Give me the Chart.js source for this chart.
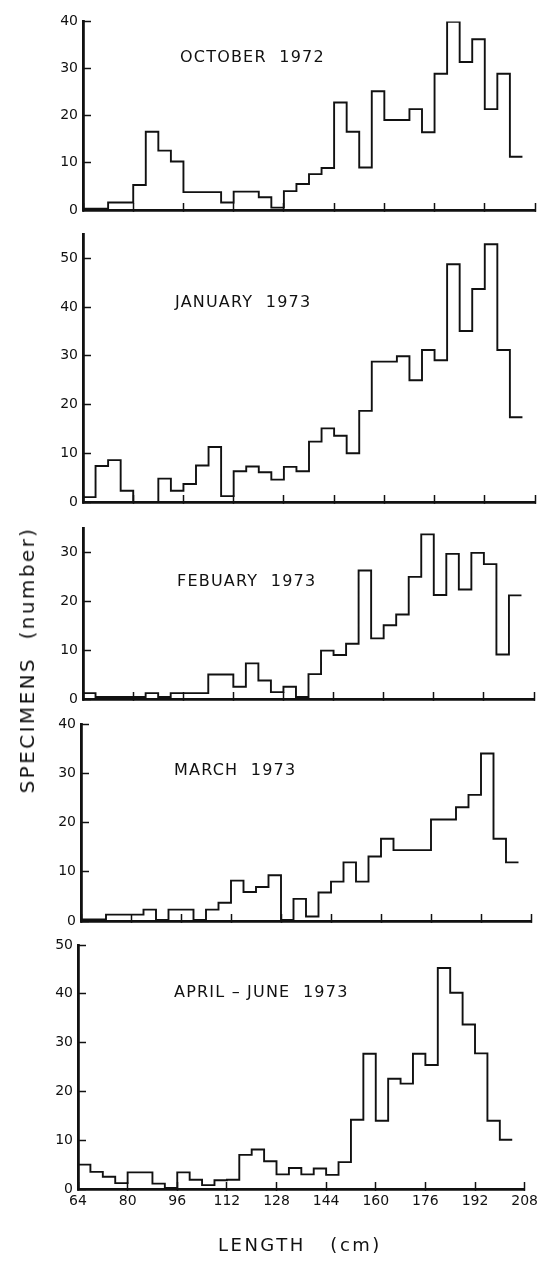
<!DOCTYPE html>
<html><head><meta charset="utf-8">
<script src="https://cdn.jsdelivr.net/npm/chart.js@4.4.1/dist/chart.umd.min.js"></script>
<style>
html,body{margin:0;padding:0;background:#fff;}
body{width:549px;height:1261px;position:relative;overflow:hidden;font-family:"DejaVu Sans",sans-serif;color:#111;}
canvas{position:absolute;left:0;top:0;}
.t{position:absolute;white-space:pre;line-height:1;transform:translateY(-50%);font-size:16px;letter-spacing:1.2px;}
.yt{position:absolute;white-space:pre;line-height:1;font-size:20px;letter-spacing:2.4px;transform:translate(-50%,-50%) rotate(-90deg);}
</style></head><body>
<canvas id="c1" width="549" height="1261"></canvas>
<canvas id="c2" width="549" height="1261"></canvas>
<canvas id="c3" width="549" height="1261"></canvas>
<canvas id="c4" width="549" height="1261"></canvas>
<canvas id="c5" width="549" height="1261"></canvas>
<div class="t" style="left:180px;top:57px">OCTOBER  1972</div>
<div class="t" style="left:175px;top:302px">JANUARY  1973</div>
<div class="t" style="left:177px;top:581px">FEBUARY  1973</div>
<div class="t" style="left:174px;top:770px">MARCH  1973</div>
<div class="t" style="left:174px;top:992px">APRIL – JUNE  1973</div>
<div class="yt" style="left:27px;top:660px">SPECIMENS  (number)</div>
<div class="t" style="left:218px;top:1245px;font-size:18px;letter-spacing:2.5px">LENGTH   (cm)</div>
<script>
// bin edges (cm), 4-cm length classes
const binEdges = [64,68,72,76,80,84,88,92,96,100,104,108,112,116,120,124,128,132,136,140,144,148,152,156,160,164,168,172,176,180,184,188,192,196,200,204];
const lengthTicks = [64,80,96,112,128,144,160,176,192,208];

const oct1972 = [0.3,0.3,1.6,1.6,5.3,16.6,12.6,10.3,3.8,3.8,3.8,1.6,3.9,3.9,2.7,0.5,4,5.5,7.6,8.9,22.8,16.6,9,25.2,19.1,19.1,21.4,16.5,28.9,39.9,31.4,36.2,21.4,28.9,11.3];
const jan1973 = [1.0,7.4,8.6,2.3,0,0,4.8,2.3,3.7,7.5,11.3,1.2,6.3,7.3,6.1,4.6,7.2,6.3,12.4,15.1,13.6,10,18.7,28.8,28.8,29.9,25,31.2,29.1,48.8,35.1,43.7,52.9,31.2,17.4];
const feb1973 = [1.2,0.4,0.4,0.4,0.4,1.2,0.4,1.2,1.2,1.2,5,5,2.5,7.3,3.8,1.4,2.5,0.4,5.1,9.9,9,11.3,26.3,12.4,15.1,17.3,25,33.7,21.3,29.7,22.4,29.9,27.6,9.1,21.2];
const mar1973 = [0.3,0.3,1.3,1.3,1.3,2.3,0.2,2.3,2.3,0.2,2.3,3.7,8.2,5.9,6.9,9.3,0.2,4.5,0.9,5.8,8,11.9,8,13.1,16.7,14.4,14.4,14.4,20.6,20.6,23.1,25.6,34,16.7,11.9];
const aprJun1973 = [5,3.5,2.5,1.2,3.4,3.4,1.1,0.2,3.4,1.9,0.8,1.8,1.9,7,8.1,5.7,3,4.3,3,4.2,2.9,5.5,14.2,27.7,14,22.6,21.6,27.7,25.4,45.3,40.2,33.7,27.8,14,10.1];

const yTicks40 = [0,10,20,30,40];
const yTicks50 = [0,10,20,30,40,50];
const yTicks30 = [0,10,20,30];

// layout (page pixels) for each panel
const panels = [
  {id:'c1', values:oct1972,   yMax:40, yTicks:yTicks40, left:83, right:535, top:15,  zero:210,  showX:false},
  {id:'c2', values:jan1973,   yMax:55, yTicks:yTicks50, left:83, right:535, top:234, zero:502,  showX:false},
  {id:'c3', values:feb1973,   yMax:35, yTicks:yTicks30, left:83, right:534, top:528, zero:699,  showX:false},
  {id:'c4', values:mar1973,   yMax:40, yTicks:yTicks40, left:81, right:531, top:724, zero:921,  showX:false},
  {id:'c5', values:aprJun1973,yMax:50, yTicks:yTicks50, left:78, right:528, top:945, zero:1189, showX:true}
];

const INK = '#111';
const W = 549, H = 1261;

panels.forEach(p => {
  const pts = p.values.map((v,i) => ({x: binEdges[i], y: v}));
  pts.push({x: binEdges[binEdges.length-1], y: p.values[p.values.length-1]});
  new Chart(document.getElementById(p.id), {
    type: 'line',
    data: { datasets: [{
      data: pts, stepped: 'before', borderColor: INK, borderWidth: 1.9,
      pointRadius: 0, fill: false, tension: 0, borderJoinStyle: 'miter'
    }]},
    options: {
      responsive: false, animation: false, devicePixelRatio: 1, events: [],
      layout: { padding: { top: p.top, left: 0, right: W - p.right, bottom: 0 } },
      plugins: { legend: {display:false}, tooltip: {enabled:false} },
      scales: {
        x: {
          type: 'linear', position: 'bottom', min: 64, max: 208,
          afterBuildTicks: s => { s.ticks = lengthTicks.map(v => ({value: v})); },
          afterFit: s => { s.height = H - p.zero; },
          grid: { display: true, drawOnChartArea: false, drawTicks: true, tickLength: -7, tickColor: INK, tickWidth: 1.5 },
          border: { display: true, color: INK, width: 2.8 },
          ticks: { display: p.showX, padding: 11, color: INK, maxRotation: 0, autoSkip: false,
                   font: { family: 'DejaVu Sans', size: 14 } }
        },
        y: {
          min: 0, max: p.yMax,
          afterBuildTicks: s => { s.ticks = p.yTicks.map(v => ({value: v})); },
          afterFit: s => { s.width = p.left; },
          grid: { display: true, drawOnChartArea: false, drawTicks: true, tickLength: -8, tickColor: INK, tickWidth: 1.5 },
          border: { display: true, color: INK, width: 2.8 },
          ticks: { padding: 13, color: INK, font: { family: 'DejaVu Sans', size: 14 } }
        }
      }
    }
  });
});
</script>
</body></html>
